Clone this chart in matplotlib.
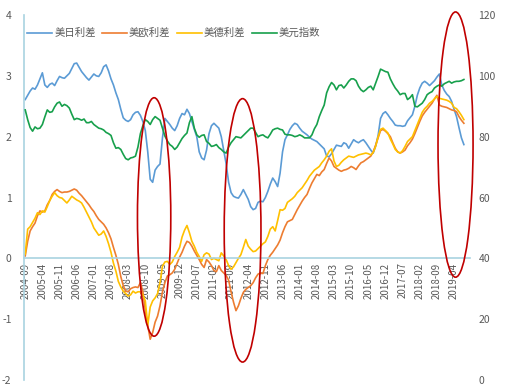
import numpy as np
import pandas as pd
import matplotlib
matplotlib.use("Agg")
import matplotlib.pyplot as plt
from matplotlib.patches import Ellipse

plt.rcParams['font.family'] = ['Noto Sans CJK SC', 'DejaVu Sans']
plt.rcParams['axes.unicode_minus'] = False

# monthly, 2004-09 .. 2019-08
months = pd.period_range('2004-09', periods=180, freq='M')

us_jp = [2.61, 2.68, 2.75, 2.80, 2.78, 2.85, 2.95, 3.05, 2.85, 2.81,
         2.86, 2.88, 2.84, 2.92, 2.99, 2.97, 2.96, 3.00, 3.04, 3.12,
         3.20, 3.21, 3.14, 3.07, 3.02, 2.97, 2.93, 2.98, 3.03, 3.00,
         2.99, 3.05, 3.15, 3.18, 3.08, 2.95, 2.85, 2.72, 2.61, 2.45,
         2.31, 2.27, 2.25, 2.28, 2.36, 2.40, 2.41, 2.35, 2.25, 2.10,
         1.75, 1.30, 1.25, 1.45, 1.51, 1.55, 1.98, 2.30, 2.25, 2.20,
         2.14, 2.10, 2.18, 2.30, 2.38, 2.36, 2.45, 2.38, 2.25, 2.12,
         2.00, 1.75, 1.65, 1.62, 1.78, 2.05, 2.18, 2.22, 2.18, 2.14,
         2.00, 1.78, 1.55, 1.25, 1.08, 1.02, 1.00, 0.99, 1.05, 1.13,
         1.05, 0.97, 0.85, 0.80, 0.82, 0.92, 0.94, 0.93, 1.00, 1.10,
         1.22, 1.32, 1.26, 1.18, 1.40, 1.75, 1.95, 2.03, 2.12, 2.18,
         2.22, 2.20, 2.14, 2.09, 2.06, 2.03, 1.99, 1.96, 1.94, 1.92,
         1.88, 1.84, 1.80, 1.68, 1.67, 1.72, 1.79, 1.86, 1.85, 1.84,
         1.90, 1.88, 1.81, 1.88, 1.95, 1.92, 1.90, 1.93, 1.95, 1.90,
         1.84, 1.78, 1.73, 1.85, 2.02, 2.30, 2.38, 2.41, 2.36, 2.30,
         2.25, 2.19, 2.18, 2.18, 2.17, 2.18, 2.26, 2.31, 2.36, 2.50,
         2.68, 2.80, 2.88, 2.91, 2.88, 2.84, 2.88, 2.92, 2.98, 3.03,
         2.85, 2.76, 2.70, 2.66, 2.58, 2.45, 2.33, 2.15, 1.98, 1.87]

us_eu = [0.04, 0.28, 0.45, 0.52, 0.58, 0.70, 0.78, 0.76, 0.78, 0.88,
         0.95, 1.05, 1.10, 1.13, 1.10, 1.08, 1.09, 1.09, 1.10, 1.12,
         1.14, 1.12, 1.07, 1.03, 0.98, 0.93, 0.88, 0.82, 0.77, 0.70,
         0.64, 0.60, 0.56, 0.50, 0.42, 0.32, 0.18, 0.05, -0.10, -0.30,
         -0.45, -0.54, -0.55, -0.50, -0.48, -0.47, -0.48, -0.40, -0.55, -0.85,
         -1.10, -1.33, -1.22, -1.05, -0.95, -0.78, -0.55, -0.40, -0.29, -0.27,
         -0.24, -0.18, -0.08, 0.02, 0.10, 0.20, 0.28, 0.26, 0.20, 0.12,
         0.05, -0.02, -0.10, -0.15, -0.02, -0.06, -0.12, -0.20, -0.22, -0.12,
         -0.20, -0.24, -0.28, -0.36, -0.55, -0.72, -0.86, -0.78, -0.66, -0.56,
         -0.51, -0.48, -0.45, -0.40, -0.32, -0.26, -0.24, -0.25, -0.12, -0.02,
         0.05, 0.10, 0.16, 0.22, 0.30, 0.42, 0.52, 0.60, 0.62, 0.64,
         0.72, 0.80, 0.87, 0.94, 1.00, 1.05, 1.15, 1.24, 1.31, 1.38,
         1.36, 1.42, 1.46, 1.56, 1.65, 1.60, 1.51, 1.48, 1.45, 1.43,
         1.45, 1.46, 1.48, 1.51, 1.49, 1.46, 1.52, 1.57, 1.59, 1.62,
         1.65, 1.68, 1.75, 1.86, 1.98, 2.10, 2.12, 2.09, 2.05, 2.00,
         1.90, 1.81, 1.75, 1.73, 1.75, 1.78, 1.85, 1.90, 1.96, 2.05,
         2.15, 2.25, 2.34, 2.40, 2.45, 2.50, 2.55, 2.62, 2.68, 2.52,
         2.50, 2.49, 2.48, 2.46, 2.44, 2.43, 2.41, 2.33, 2.27, 2.22]

us_de = [0.07, 0.48, 0.52, 0.59, 0.66, 0.75, 0.72, 0.78, 0.76, 0.85,
         0.95, 1.02, 1.08, 1.03, 1.00, 0.99, 0.95, 0.91, 0.96, 1.02,
         0.99, 0.96, 0.94, 0.91, 0.84, 0.76, 0.68, 0.60, 0.50, 0.44,
         0.38, 0.40, 0.45, 0.36, 0.24, 0.10, -0.08, -0.21, -0.38, -0.47,
         -0.54, -0.58, -0.62, -0.60, -0.54, -0.57, -0.55, -0.55, -0.60, -0.70,
         -1.10, -0.80, -0.70, -0.65, -0.58, -0.40, -0.13, -0.06, -0.05, -0.10,
         -0.06, 0.03, 0.10, 0.18, 0.35, 0.46, 0.54, 0.42, 0.28, 0.20,
         0.10, 0.03, -0.05, 0.06, 0.09, 0.07, -0.02, 0.00, -0.02, -0.04,
         0.09, 0.04, -0.02, -0.12, -0.18, -0.14, -0.07, 0.00, 0.06, 0.18,
         0.31, 0.20, 0.15, 0.11, 0.12, 0.16, 0.20, 0.24, 0.27, 0.36,
         0.48, 0.52, 0.45, 0.62, 0.80, 0.79, 0.82, 0.92, 0.95, 0.98,
         1.02, 1.08, 1.12, 1.16, 1.22, 1.28, 1.35, 1.40, 1.45, 1.48,
         1.51, 1.57, 1.62, 1.68, 1.76, 1.80, 1.60, 1.51, 1.53, 1.58,
         1.62, 1.65, 1.68, 1.67, 1.66, 1.68, 1.70, 1.71, 1.72, 1.73,
         1.72, 1.70, 1.74, 1.84, 2.00, 2.12, 2.14, 2.10, 2.06, 1.96,
         1.88, 1.79, 1.75, 1.73, 1.77, 1.84, 1.92, 1.96, 2.00, 2.10,
         2.20, 2.30, 2.40, 2.46, 2.50, 2.55, 2.58, 2.62, 2.66, 2.63,
         2.62, 2.61, 2.60, 2.58, 2.55, 2.48, 2.46, 2.41, 2.35, 2.28]

usd_index = [88.8, 85.6, 83.0, 81.8, 83.2, 82.6, 82.8, 84.0, 86.5, 88.8,
             88.0, 88.2, 89.8, 91.0, 91.4, 90.0, 90.6, 90.2, 89.4, 87.4,
             85.6, 86.0, 85.8, 85.4, 85.8, 84.6, 84.6, 85.0, 84.0, 83.4,
             82.8, 82.6, 82.2, 81.4, 81.0, 80.4, 78.0, 76.2, 76.4, 75.8,
             74.2, 72.8, 72.4, 73.0, 73.2, 73.6, 76.6, 81.0, 83.6, 85.6,
             85.0, 84.0, 85.6, 86.6, 86.0, 85.4, 82.8, 80.2, 78.6, 77.4,
             76.8, 75.8, 76.6, 78.0, 79.4, 80.4, 81.2, 84.6, 86.6, 82.8,
             80.6, 79.8, 80.4, 80.6, 78.4, 77.8, 76.8, 77.0, 77.4, 76.4,
             75.8, 75.0, 74.6, 76.6, 78.0, 79.0, 80.0, 79.8, 79.6, 80.4,
             81.2, 82.0, 82.8, 82.8, 81.4, 80.0, 80.4, 80.6, 80.0, 79.6,
             80.8, 82.2, 82.6, 82.8, 82.4, 82.2, 80.8, 80.6, 80.6, 80.4,
             80.0, 80.2, 80.6, 80.2, 79.6, 79.6, 79.6, 80.6, 82.6, 84.0,
             86.6, 88.6, 90.4, 94.4, 96.4, 97.8, 97.0, 95.4, 96.8, 97.0,
             96.0, 97.0, 98.2, 99.0, 99.0, 98.4, 96.6, 95.4, 94.8, 95.4,
             96.2, 96.6, 95.4, 97.6, 99.8, 102.2, 101.8, 101.4, 101.2, 99.0,
             97.4, 96.0, 95.0, 93.8, 94.2, 94.2, 92.2, 92.8, 93.8, 90.0,
             89.8, 90.4, 91.0, 92.2, 93.8, 94.4, 94.8, 96.0, 96.6, 97.0,
             96.6, 97.4, 97.8, 98.2, 97.6, 98.0, 98.2, 98.2, 98.4, 98.8]

names = ['美日利差', '美欧利差', '美德利差', '美元指数']
colors = ['#5B9BD5', '#ED7D31', '#FFC000', '#17A04C']

# highlighted episodes (month index, spread value, width in months, height)
highlights = [(52.6, 0.68, 13.6, 3.92),
              (88.7, 0.46, 15.0, 4.33),
              (175.6, 1.87, 14.3, 4.36)]

x = np.arange(len(months))
tick_pos = x[::7]
tick_labels = [m.strftime('%Y-%m') for m in months[::7]]

fig = plt.figure(figsize=(5.08, 3.89), dpi=100)
ax = fig.add_axes([24 / 508, 1 - 380 / 389, 446 / 508, 365 / 389])
ax2 = ax.twinx()

l1, = ax.plot(x, us_jp, color=colors[0], lw=1.2)
l2, = ax.plot(x, us_eu, color=colors[1], lw=1.2)
l3, = ax.plot(x, us_de, color=colors[2], lw=1.2)
l4, = ax2.plot(x, usd_index, color=colors[3], lw=1.2)

axis_col = '#A9D3E0'
grey = '#595959'
ax.set_xlim(-0.5, 181.5)
ax.set_ylim(-2, 4)
ax2.set_ylim(0, 120)
ax.set_yticks(range(-2, 5))
ax2.set_yticks(range(0, 121, 20))

for s in ['top', 'right']:
    ax.spines[s].set_visible(False)
for s in ['top', 'right', 'left', 'bottom']:
    ax2.spines[s].set_visible(False)
ax.spines['bottom'].set_position(('data', 0))
ax.spines['bottom'].set_color(axis_col)
ax.spines['left'].set_color(axis_col)
ax.spines['bottom'].set_linewidth(1.2)
ax.spines['left'].set_linewidth(1.2)

ax.set_xticks(tick_pos)
ax.set_xticklabels(tick_labels, rotation=90)
ax.tick_params(axis='x', length=0, pad=3, labelsize=7, labelcolor=grey)
ax.tick_params(axis='y', length=0, pad=9, labelsize=7.5, labelcolor=grey)
ax2.tick_params(axis='y', length=0, pad=6, labelsize=7.5, labelcolor=grey)

for cx, cy, w, h in highlights:
    ax2.add_patch(Ellipse((cx, cy), w, h, transform=ax.transData,
                          fill=False, edgecolor='#C00000', lw=1.2,
                          clip_on=False, zorder=5))

fig.legend([l1, l2, l3, l4], names, loc='center left',
           bbox_to_anchor=(27 / 508, 1 - 33 / 389), ncol=4, frameon=False,
           fontsize=7.5, handlelength=2.4, handletextpad=0.2,
           columnspacing=0.6, borderpad=0, borderaxespad=0,
           labelcolor=grey)

fig.savefig('out.png', dpi=100)
